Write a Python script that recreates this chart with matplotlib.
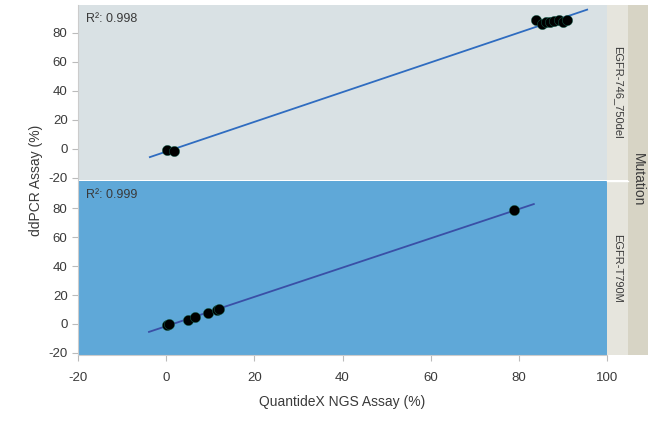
## ddPCR vs QuantideX NGS, faceted by mutation

import numpy as np
import matplotlib
matplotlib.use('Agg')
import matplotlib.pyplot as plt
from matplotlib.patches import Rectangle

plt.rcParams['font.family'] = ['Liberation Sans', 'DejaVu Sans']
plt.rcParams['axes.unicode_minus'] = False

# --- data ---
mutations = ['EGFR-746_750del', 'EGFR-T790M']
r2_labels = ['0.998', '0.999']

del_ngs = [0.3, 1.8, 84.0, 85.2, 86.2, 87.0, 88.0, 89.0, 90.0, 91.0]
del_ddpcr = [-1.0, -1.2, 89.0, 85.8, 87.0, 87.5, 88.0, 88.5, 87.5, 88.5]

t790_ngs = [0.1, 0.6, 4.9, 6.6, 9.5, 11.5, 12.0, 78.9]
t790_ddpcr = [-1.0, -0.2, 3.0, 5.0, 7.6, 10.0, 10.5, 78.6]

xs = [del_ngs, t790_ngs]
ys = [del_ddpcr, t790_ddpcr]

bg_colors = ['#d9e1e4', '#5fa8d8']
line_colors = ['#2f6cc0', '#3a4fa6']
xticks = [-20, 0, 20, 40, 60, 80, 100]
yticks = [-20, 0, 20, 40, 60, 80]

txt = '#3a3a3a'
tick_col = '#bbbbbb'

fig = plt.figure(figsize=(6.7, 4.24), dpi=100)
W, H = 670.0, 424.0
left, right = 78 / W, 607 / W
panels = [(5, 180), (181, 355)]

for k in range(2):
    top_px, bot_px = panels[k]
    ax = fig.add_axes([left, 1 - bot_px / H, right - left, (bot_px - top_px) / H])
    ax.set_facecolor(bg_colors[k])
    ax.set_xlim(-20, 100)
    ax.set_ylim(-21.5, 99)

    x = np.array(xs[k])
    y = np.array(ys[k])
    m, b = np.polyfit(x, y, 1)
    lx = np.array([x.min() - 4, x.max() + 4.5])
    ax.plot(lx, m * lx + b, color=line_colors[k], lw=1.3, zorder=2)
    ax.scatter(x, y, s=55, color='black', edgecolors='#1a6e5a', linewidths=0.3, zorder=3)

    ax.text(0.015, 0.955, 'R²: ' + r2_labels[k], transform=ax.transAxes,
            ha='left', va='top', fontsize=9, color=txt)

    ax.set_yticks(yticks)
    ax.tick_params(axis='both', colors=tick_col, labelcolor=txt, labelsize=9.5, length=4, width=0.8)
    for s in ['top', 'right']:
        ax.spines[s].set_visible(False)
    ax.spines['left'].set_color('#cccccc')
    ax.spines['bottom'].set_color('#cccccc')
    if k == 0:
        ax.set_xticks([])
        ax.spines['bottom'].set_visible(False)
    else:
        ax.set_xticks(xticks)
        ax.tick_params(axis='x', pad=8)
        ax.set_xlabel('QuantideX NGS Assay (%)', fontsize=10, color=txt, labelpad=8)

    # inner strip with mutation name
    fig.patches.append(Rectangle((607 / W, 1 - bot_px / H), 21 / W, (bot_px - top_px) / H,
                                 transform=fig.transFigure, facecolor='#e6e5dd', edgecolor='none'))
    fig.text(617.5 / W, 1 - (top_px + bot_px) / 2 / H, mutations[k], rotation=-90,
             ha='center', va='center', fontsize=8, color=txt)

# outer strip
fig.patches.append(Rectangle((628 / W, 1 - 355 / H), 20 / W, 350 / H,
                             transform=fig.transFigure, facecolor='#d7d4c5', edgecolor='none'))
fig.text(638 / W, 1 - 180 / H, 'Mutation', rotation=-90, ha='center', va='center',
         fontsize=10, color=txt)
fig.lines.append(plt.Line2D([607 / W, 628 / W], [1 - 180.5 / H] * 2, transform=fig.transFigure,
                            color='white', lw=1))

fig.text(36 / W, 1 - 180 / H, 'ddPCR Assay (%)', rotation=90, ha='center', va='center',
         fontsize=10, color=txt)

fig.savefig('out.png', dpi=100)
